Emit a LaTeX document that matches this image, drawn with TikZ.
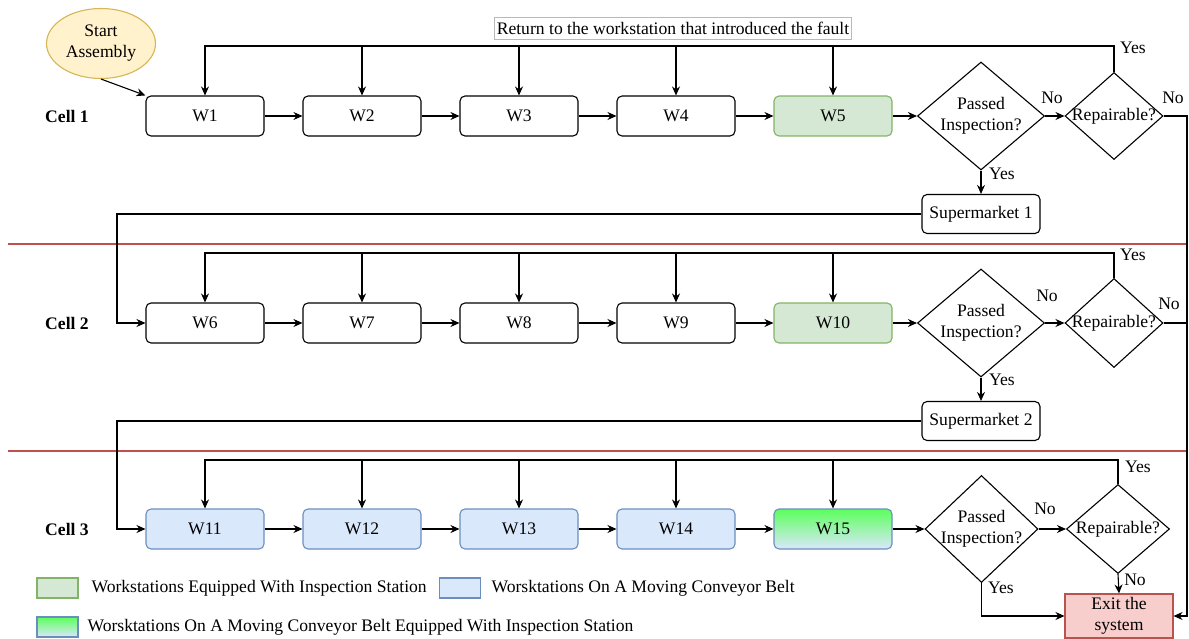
\documentclass[tikz,border=0pt]{standalone}
\usepackage{fontspec}
\setmainfont{Liberation Serif}
\usetikzlibrary{shapes.geometric,arrows.meta,calc}
\definecolor{gfill}{HTML}{D5E8D4}
\definecolor{gdraw}{HTML}{82B366}
\definecolor{bfill}{HTML}{DAE8FC}
\definecolor{bdraw}{HTML}{6C8EBF}
\definecolor{rfill}{HTML}{F8CECC}
\definecolor{rdraw}{HTML}{B85450}
\definecolor{yfill}{HTML}{FFF2CC}
\definecolor{ydraw}{HTML}{D6B656}
\definecolor{gtop}{HTML}{5CFF5C}
\definecolor{sepline}{HTML}{C0504D}
\begin{document}
\begin{tikzpicture}[x=1pt,y=-1pt,
  font=\fontsize{17.6}{21}\selectfont,
  line width=1.1pt,
  >={Stealth[length=9pt,width=8pt]},
  ws/.style={draw, rounded corners=5pt, minimum width=118pt, minimum height=40pt, inner sep=0pt},
  wsg/.style={ws, fill=gfill, draw=gdraw},
  wsb/.style={ws, fill=bfill, draw=bdraw},
  wsgr/.style={ws, top color=gtop, bottom color=bfill, draw=bdraw},
  dec/.style={diamond, draw, inner sep=-14pt, align=center},
  smk/.style={draw, rounded corners=5pt, minimum width=118pt, minimum height=39pt, inner sep=0pt},
  lbl/.style={inner sep=1pt, fill=white},
  celllbl/.style={font=\fontsize{17.6}{21}\selectfont\bfseries, inner sep=0pt},
  legbox/.style={minimum width=41pt, minimum height=20pt, inner sep=0pt},
  legtxt/.style={anchor=west, inner sep=0pt},
  sepl/.style={draw=sepline, line width=1.3pt}
]
\useasboundingbox (0,0) rectangle (1189,639);

% separators
\coordinate (sepA) at (8,244);
\coordinate (sepB) at (1188,244);
\coordinate (sepC) at (8,451);
\coordinate (sepD) at (1188,451);
\draw[sepl] (sepA) -- (sepB);
\draw[sepl] (sepC) -- (sepD);

% start
\node[ellipse, draw=ydraw, fill=yfill, minimum width=109pt, minimum height=70pt, inner sep=0pt, align=center] (start) at (101,43.5) {Start\\Assembly};

% cell labels
\node[celllbl] (c1) at (67,116) {Cell 1};
\node[celllbl] (c2) at (67,323) {Cell 2};
\node[celllbl] (c3) at (67,529) {Cell 3};

% row 1
\node[ws] (w1) at (205,116) {W1};
\node[ws] (w2) at (362,116) {W2};
\node[ws] (w3) at (519,116) {W3};
\node[ws] (w4) at (676,116) {W4};
\node[wsg] (w5) at (833,116) {W5};
\node[dec, minimum width=127pt, minimum height=108pt] (d1) at (981,116) {Passed\\Inspection?};
\node[dec, minimum width=98pt, minimum height=87pt] (r1) at (1114,116) {Repairable?};
\node[smk] (s1) at (981,214) {Supermarket 1};

% row 2
\node[ws] (w6) at (205,323) {W6};
\node[ws] (w7) at (362,323) {W7};
\node[ws] (w8) at (519,323) {W8};
\node[ws] (w9) at (676,323) {W9};
\node[wsg] (w10) at (833,323) {W10};
\node[dec, minimum width=127pt, minimum height=108pt] (d2) at (981,323) {Passed\\Inspection?};
\node[dec, minimum width=98pt, minimum height=89pt] (r2) at (1114,323) {Repairable?};
\node[smk] (s2) at (981,421) {Supermarket 2};

% row 3
\node[wsb] (w11) at (205,529) {W11};
\node[wsb] (w12) at (362,529) {W12};
\node[wsb] (w13) at (519,529) {W13};
\node[wsb] (w14) at (676,529) {W14};
\node[wsgr] (w15) at (833,529) {W15};
\node[dec, minimum width=113pt, minimum height=107pt] (d3) at (981.5,529) {Passed\\Inspection?};
\node[dec, minimum width=103pt, minimum height=89pt] (r3) at (1118,529) {Repairable?};
\node[draw=rdraw, fill=rfill, minimum width=108pt, minimum height=44pt, inner sep=0pt, align=center] (exit) at (1119,616) {Exit the\\system};

% return label
\node[draw=gray!55, line width=0.8pt, inner sep=2pt, minimum height=22pt] (ret) at (673,28) {Return to the workstation that introduced the fault};

% helper coordinates
\coordinate (f1) at (0,46);
\coordinate (f2) at (0,253);
\coordinate (f3) at (0,460);
\coordinate (rx) at (1187,0);
\coordinate (lx) at (117,0);

% start arrow
\draw[->] (start.south) -- (w1.north west);

% row chains
\draw[->] (w1) -- (w2);
\draw[->] (w2) -- (w3);
\draw[->] (w3) -- (w4);
\draw[->] (w4) -- (w5);
\draw[->] (w5) -- (d1);
\draw[->] (d1) -- (r1);
\draw[->] (w6) -- (w7);
\draw[->] (w7) -- (w8);
\draw[->] (w8) -- (w9);
\draw[->] (w9) -- (w10);
\draw[->] (w10) -- (d2);
\draw[->] (d2) -- (r2);
\draw[->] (w11) -- (w12);
\draw[->] (w12) -- (w13);
\draw[->] (w13) -- (w14);
\draw[->] (w14) -- (w15);
\draw[->] (w15) -- (d3);
\draw[->] (d3) -- (r3);

% feedback loops
\draw[->] (r1.north) -- (r1.north|-f1) -- (w1.north|-f1) -- (w1.north);
\foreach \w in {w2,w3,w4,w5} \draw[->] (\w.north|-f1) -- (\w.north);
\draw[->] (r2.north) -- (r2.north|-f2) -- (w6.north|-f2) -- (w6.north);
\foreach \w in {w7,w8,w9,w10} \draw[->] (\w.north|-f2) -- (\w.north);
\draw[->] (r3.north) -- (r3.north|-f3) -- (w11.north|-f3) -- (w11.north);
\foreach \w in {w12,w13,w14,w15} \draw[->] (\w.north|-f3) -- (\w.north);

% passed -> supermarket
\draw[->] (d1.south) -- (s1.north);
\draw[->] (d2.south) -- (s2.north);
\draw[->] (s1.west) -- (s1.west-|lx) -- (w6.west-|lx) -- (w6.west);
\draw[->] (s2.west) -- (s2.west-|lx) -- (w11.west-|lx) -- (w11.west);

% scrap paths
\draw[->] (r1.east) -- (r1.east-|rx) -- (exit.east-|rx) -- (exit.east);
\draw (r2.east) -- (r2.east-|rx);
\draw[->] (r3.south) -- (exit.north);
\draw[->] (d3.south) -- (d3.south|-exit.west) -- (exit.west);

% labels
\node[lbl] (y1a) at (1133,48) {Yes};
\node[lbl] (n1a) at (1052,98) {No};
\node[lbl] (n1b) at (1173,98) {No};
\node[lbl] (y1b) at (1002,174) {Yes};
\node[lbl] (y2a) at (1133,255) {Yes};
\node[lbl] (n2a) at (1047,296) {No};
\node[lbl] (n2b) at (1169,304) {No};
\node[lbl] (y2b) at (1002,380) {Yes};
\node[lbl] (y3a) at (1138,467) {Yes};
\node[lbl] (n3a) at (1045,509) {No};
\node[lbl] (n3b) at (1135,580) {No};
\node[lbl] (y3b) at (1001,588) {Yes};

% legend
\node[legbox, fill=gfill, draw=gdraw] (lg1) at (57.5,588) {};
\node[legtxt] (lt1) at (91,588) {Workstations Equipped With Inspection Station};
\node[legbox, fill=bfill, draw=bdraw] (lg2) at (460,588) {};
\node[legtxt] (lt2) at (491,588) {Worsktations On A Moving Conveyor Belt};
\node[legbox, top color=gtop, bottom color=bfill, draw=bdraw] (lg3) at (57.5,627) {};
\node[legtxt] (lt3) at (87,627) {Worsktations On A Moving Conveyor Belt Equipped With Inspection Station};
\end{tikzpicture}
\end{document}
